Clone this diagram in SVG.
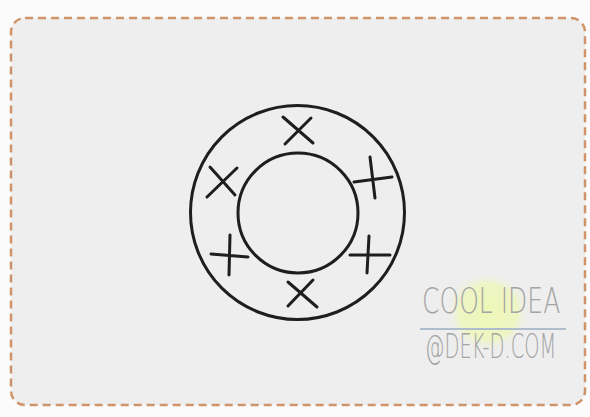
<svg xmlns="http://www.w3.org/2000/svg" width="590" height="417" viewBox="0 0 590 417">
<defs>
<style>
.ink{fill:none;stroke:#1e1e1e;stroke-width:3;stroke-linecap:round}
.wm{font-family:"DejaVu Sans",sans-serif;font-weight:200;fill:#a4a4a4}
</style>
<radialGradient id="blob" cx="0.5" cy="0.5" r="0.5">
<stop offset="0" stop-color="#eef7b8"/>
<stop offset="0.7" stop-color="#eef5c4"/>
<stop offset="1" stop-color="#eeeeee" stop-opacity="0"/>
</radialGradient>
</defs>
<rect width="590" height="417" fill="#fbfbfb"/>
<g id="card">
<rect x="11" y="18" width="574" height="387" rx="14" fill="#eeeeee" stroke="#d0946a" stroke-width="2.5" stroke-dasharray="8 5"/>
</g>
<g id="rings">
<circle class="ink" cx="297.5" cy="212.5" r="107"/>
<circle class="ink" cx="298" cy="213" r="60"/>
</g>
<g id="marks">
<path class="ink" d="M283 117 L313 143 M311 118 L285 144"/>
<path class="ink" d="M210 167 L235 195 M237 168 L207 197"/>
<path class="ink" d="M370 157 L375 198 M354 182 L392 177"/>
<path class="ink" d="M230 235 L229 275 M211 254 L248 257"/>
<path class="ink" d="M369 236 L367 273 M350 255 L390 255"/>
<path class="ink" d="M288 282 L317 307 M313 280 L288 306"/>
</g>
<g id="watermark">
<ellipse cx="488" cy="312" rx="42" ry="40" fill="url(#blob)"/>
<line x1="420" y1="329" x2="566" y2="329" stroke="#aebccb" stroke-width="2"/>
<text class="wm" font-size="35" transform="translate(422 313) scale(0.715 1)">COOL IDEA</text>
<text class="wm" font-size="33" transform="translate(425 358) scale(0.59 1)">@DEK-D.COM</text>
</g>
</svg>
